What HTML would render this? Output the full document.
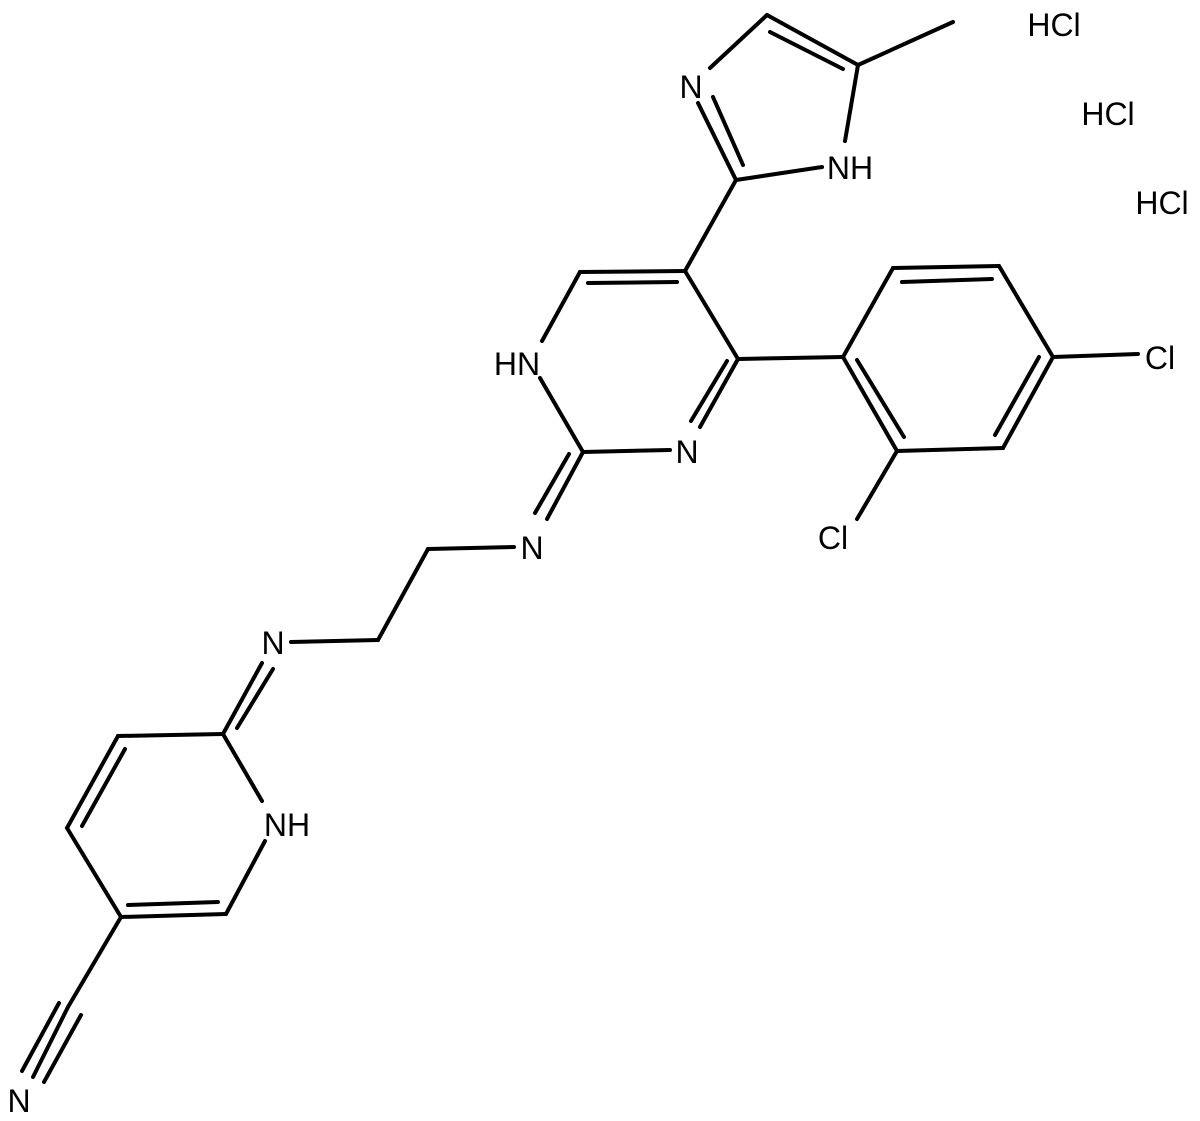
<!DOCTYPE html>
<html><head><meta charset="utf-8"><style>
html,body{margin:0;padding:0;background:#fff;}
svg{display:block;}
text{font-family:"Liberation Sans",Arial,sans-serif;font-size:32px;fill:#000;text-anchor:middle;}
</style></head><body>
<svg width="1200" height="1121" viewBox="0 0 1200 1121" xmlns="http://www.w3.org/2000/svg">
<g stroke="#000" stroke-width="4" fill="none" stroke-linecap="round">
<!-- imidazole -->
<line x1="710" y1="68" x2="767" y2="15"/>
<line x1="767" y1="15" x2="858" y2="65"/>
<line x1="770" y1="32" x2="843" y2="69"/>
<line x1="858" y1="65" x2="953" y2="22"/>
<line x1="858" y1="65" x2="845" y2="141"/>
<line x1="822" y1="167" x2="736" y2="180"/>
<line x1="736" y1="180" x2="698" y2="103"/>
<line x1="743" y1="165" x2="713" y2="97"/>
<!-- link -->
<line x1="736" y1="180" x2="685" y2="271"/>
<!-- pyrimidine -->
<line x1="685" y1="271" x2="580" y2="272"/>
<line x1="588" y1="283" x2="677" y2="282"/>
<line x1="580" y1="272" x2="542" y2="341"/>
<line x1="540" y1="378" x2="583" y2="452"/>
<line x1="583" y1="452" x2="670" y2="450"/>
<line x1="685" y1="271" x2="738" y2="359"/>
<line x1="738" y1="359" x2="700" y2="427"/>
<line x1="727" y1="361" x2="691" y2="421"/>
<line x1="738" y1="359" x2="843" y2="357"/>
<!-- phenyl -->
<line x1="843" y1="357" x2="893" y2="268"/>
<line x1="893" y1="268" x2="999" y2="266"/>
<line x1="902" y1="282" x2="992" y2="279"/>
<line x1="999" y1="266" x2="1053" y2="357"/>
<line x1="1053" y1="357" x2="1003" y2="448"/>
<line x1="1039" y1="357" x2="995" y2="435"/>
<line x1="1003" y1="448" x2="897" y2="451"/>
<line x1="897" y1="451" x2="843" y2="357"/>
<line x1="857" y1="360" x2="904" y2="437"/>
<line x1="1053" y1="357" x2="1138" y2="354"/>
<line x1="897" y1="451" x2="857" y2="519"/>
<!-- exo imine -->
<line x1="583" y1="452" x2="547" y2="519"/>
<line x1="569" y1="454" x2="535" y2="513"/>
<!-- chain -->
<line x1="514" y1="547" x2="428" y2="549"/>
<line x1="428" y1="549" x2="378" y2="640"/>
<line x1="378" y1="640" x2="291" y2="642"/>
<line x1="262" y1="663" x2="223" y2="734"/>
<line x1="273" y1="669" x2="237" y2="728"/>
<!-- pyridine -->
<line x1="223" y1="734" x2="118" y2="736"/>
<line x1="118" y1="736" x2="67" y2="828"/>
<line x1="125" y1="749" x2="82" y2="826"/>
<line x1="67" y1="828" x2="121" y2="917"/>
<line x1="121" y1="917" x2="226" y2="914"/>
<line x1="128" y1="905" x2="218" y2="902"/>
<line x1="226" y1="914" x2="265" y2="841"/>
<line x1="223" y1="734" x2="262" y2="801"/>
<!-- nitrile -->
<line x1="121" y1="917" x2="68" y2="1007"/>
<line x1="59" y1="1003" x2="22" y2="1071"/>
<line x1="68" y1="1007" x2="33" y2="1077"/>
<line x1="81" y1="1015" x2="44" y2="1082"/>
</g>
<text x="691" y="98">N</text>
<text x="850" y="179">NH</text>
<text x="517" y="375">HN</text>
<text x="687" y="463">N</text>
<text x="1160" y="369">Cl</text>
<text x="833" y="549">Cl</text>
<text x="532" y="559">N</text>
<text x="273" y="654">N</text>
<text x="287" y="836">NH</text>
<text x="19" y="1112">N</text>
<text x="1054" y="36">HCl</text>
<text x="1108" y="125">HCl</text>
<text x="1162" y="214">HCl</text>
</svg>
</body></html>
